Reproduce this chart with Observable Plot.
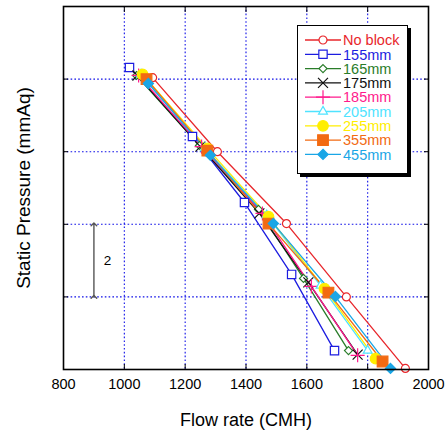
<!DOCTYPE html>
<html><head><meta charset="utf-8">
<script src="https://cdn.jsdelivr.net/npm/d3@7"></script>
<script src="https://cdn.jsdelivr.net/npm/@observablehq/plot@0.6"></script>
<style>
body{margin:0;background:#fff;}
#wrap{position:relative;width:446px;height:436px;font-family:"Liberation Sans",Arial,sans-serif;}
</style></head><body><div id="wrap"></div>
<script>
// ---- data ----
const seriesNames = ["No block","155mm","165mm","175mm","185mm","205mm","255mm","355mm","455mm"];
const flowNoBlock = [1093,1306,1533,1730,1924];
const presNoBlock = [8.04,6.00,4.02,2.00,0.03];
const flow155 = [1017,1224,1395,1550,1691];
const pres155 = [8.32,6.42,4.60,2.62,0.52];
const flow165 = [1040,1247,1441,1589,1737];
const pres165 = [8.10,6.17,4.41,2.51,0.52];
const flow175 = [1043,1250,1444,1605,1767];
const pres175 = [8.10,6.14,4.30,2.40,0.41];
const flow185 = [1047,1254,1454,1615,1767];
const pres185 = [8.10,6.14,4.30,2.29,0.39];
const flow205 = [1055,1265,1468,1645,1800];
const pres205 = [8.13,6.10,4.25,2.31,0.52];
const flow255 = [1060,1273,1474,1658,1826];
const pres255 = [8.13,6.09,4.21,2.23,0.30];
const flow355 = [1073,1273,1474,1671,1849];
const pres355 = [8.00,6.03,4.02,2.12,0.22];
const flow455 = [1079,1283,1490,1694,1875];
const pres455 = [7.88,5.90,4.02,2.01,0.03];
const xTicks = [800,1000,1200,1400,1600,1800,2000];
const xGrid = [1000,1200,1400,1600,1800];
const yGrid = [2,4,6,8];
const arrowFlow = 900;
const arrowSpan = [2,4];
const arrowLabel = "2";
const xTitle = "Flow rate (CMH)";
const yTitle = "Static Pressure (mmAq)";

const flows = [flowNoBlock,flow155,flow165,flow175,flow185,flow205,flow255,flow355,flow455];
const pressures = [presNoBlock,pres155,pres165,pres175,pres185,pres205,pres255,pres355,pres455];

// ---- styles ----
const styles = {
  "No block": {color:"#e8262b", symbol:"circle",   fill:"white",  r:4},
  "155mm":    {color:"#1c1ce0", symbol:"square",   fill:"white",  r:4.7},
  "165mm":    {color:"#2a7d2a", symbol:"diamond2", fill:"white",  r:3.6},
  "175mm":    {color:"#111111", symbol:"times",    fill:"none",   r:4.6},
  "185mm":    {color:"#ff1a8c", symbol:"plus",     fill:"none",   r:4.6},
  "205mm":    {color:"#4fe3ff", symbol:"triangle2",fill:"white",  r:4.2},
  "255mm":    {color:"#ffee00", symbol:"circle",   fill:"#ffee00",r:5.3},
  "355mm":    {color:"#f26a12", symbol:"square",   fill:"#f26a12",r:6.0},
  "455mm":    {color:"#1aa6e6", symbol:"diamond2", fill:"#1aa6e6",r:4.6}
};

const rows = seriesNames.flatMap((name, k) =>
  flows[k].map((f, i) => ({series: name, flow: f, pressure: pressures[k][i]})));

const lineMarks = seriesNames.map(name => Plot.line(rows.filter(d => d.series === name), {
  x: "flow", y: "pressure", stroke: styles[name].color, strokeWidth: 1.3
}));
const dotMarks = seriesNames.map(name => Plot.dot(rows.filter(d => d.series === name), {
  x: "flow", y: "pressure", symbol: () => styles[name].symbol, r: styles[name].r,
  stroke: styles[name].color, fill: styles[name].fill, strokeWidth: 1.2
}));

const grid = {stroke: "#1010e8", strokeWidth: 1.1, strokeDasharray: "1.6,2.2", strokeOpacity: 1};

const chart = Plot.plot({
  width: 446, height: 436,
  marginLeft: 63, marginRight: 18, marginTop: 6, marginBottom: 67,
  style: {fontFamily: "'Liberation Sans', Arial, sans-serif", background: "white", color: "black"},
  x: {domain: [800, 2000]},
  y: {domain: [0, 10]},
  symbol: {type: "identity"},
  marks: [
    Plot.ruleX(xGrid, grid),
    Plot.ruleY(yGrid, grid),
    ...lineMarks,
    ...dotMarks,
    Plot.line(arrowSpan.map(v => ({x: arrowFlow, y: v})), {x: "x", y: "y", stroke: "#555", strokeWidth: 1.4, marker: "arrow"}),
    Plot.text([arrowLabel], {x: 945, y: 3, text: d => d, fontSize: 13.5, fill: "black"}),
    Plot.frame({stroke: "black", strokeWidth: 1.6}),
    Plot.axisX(xTicks, {anchor: "bottom", tickSize: 0, tickPadding: 9, fontSize: 14.5, label: null, tickFormat: d => String(d)}),
    Plot.axisX(xTicks, {anchor: "bottom", tickSize: -5, tickFormat: () => "", label: null}),
    Plot.axisX(xTicks, {anchor: "top", tickSize: -5, tickFormat: () => "", label: null}),
    Plot.axisY(yGrid, {anchor: "left", tickSize: -5, tickFormat: () => "", label: null}),
    Plot.axisY(yGrid, {anchor: "right", tickSize: -5, tickFormat: () => "", label: null}),
    Plot.text([xTitle], {frameAnchor: "bottom", dy: 51, lineAnchor: "middle", textAnchor: "middle", text: d => d, fontSize: 18, fill: "black"}),
    Plot.text([yTitle], {frameAnchor: "left", dx: -40, rotate: -90, lineAnchor: "middle", textAnchor: "middle", text: d => d, fontSize: 19, fill: "black"})
  ]
});
const wrap = document.getElementById("wrap");
wrap.appendChild(chart);

// ---- legend overlay ----
const symMap = {circle: d3.symbolCircle, square: d3.symbolSquare, diamond2: d3.symbolDiamond2,
  times: d3.symbolTimes, plus: d3.symbolPlus, triangle2: d3.symbolTriangle2};
const leg = d3.select(wrap).append("div")
  .style("position", "absolute").style("left", "297px").style("top", "25px")
  .style("width", "111px").style("height", "149px").style("box-sizing", "border-box")
  .style("border", "1.5px solid black").style("background", "white")
  .style("box-shadow", "3px 3px 0 black");
const lsvg = leg.append("svg").attr("width", 108).attr("height", 146).style("display", "block");
seriesNames.forEach((name, i) => {
  const s = styles[name];
  const cy = 14 + i * 14.3;
  lsvg.append("line").attr("x1", 7).attr("x2", 43).attr("y1", cy).attr("y2", cy)
    .attr("stroke", s.color).attr("stroke-width", 1.3);
  lsvg.append("path").attr("d", d3.symbol(symMap[s.symbol], Math.PI * s.r * s.r)())
    .attr("transform", `translate(25,${cy})`)
    .attr("stroke", s.color).attr("fill", s.fill).attr("stroke-width", 1.2);
  lsvg.append("text").attr("x", 45).attr("y", cy).attr("dy", "0.36em")
    .attr("fill", s.color).attr("font-size", 14.5)
    .attr("font-family", "'Liberation Sans', Arial, sans-serif").text(name);
});
</script>
</body></html>
